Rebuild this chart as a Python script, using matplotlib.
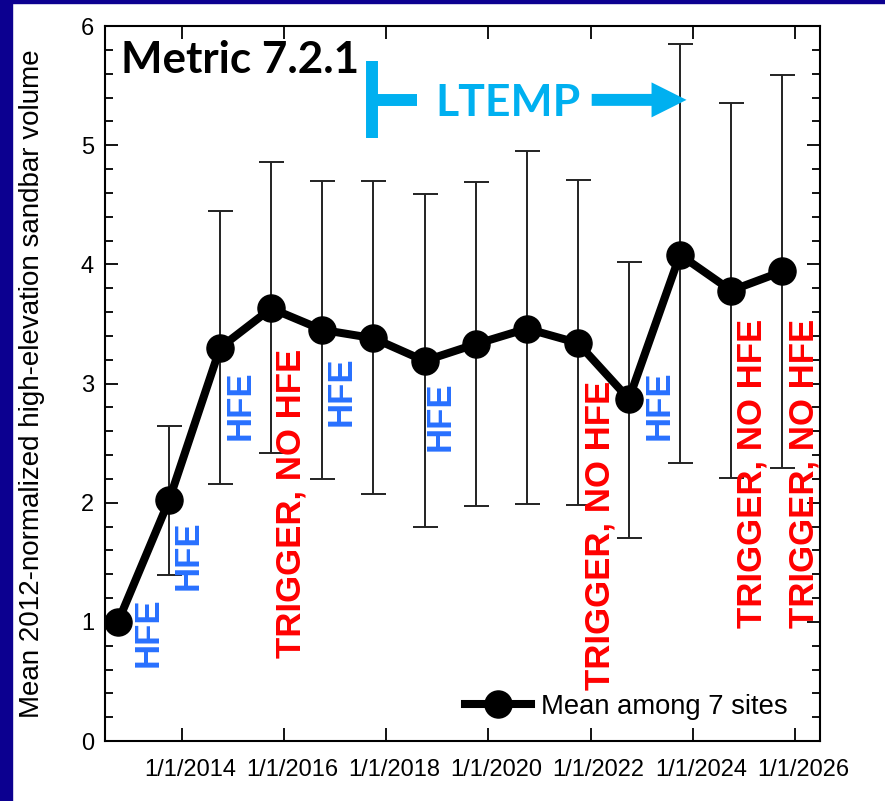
import matplotlib
matplotlib.use("Agg")
import matplotlib.pyplot as plt
import matplotlib.patches as ptc
import matplotlib.transforms as mtransforms
import numpy as np
import pandas as pd

# donnees
survey_dates = pd.to_datetime(["2012-10-01", "2013-10-01", "2014-10-01", "2015-10-01",
                               "2016-10-01", "2017-10-01", "2018-10-01", "2019-10-01",
                               "2020-10-01", "2021-10-01", "2022-10-01", "2023-10-01",
                               "2024-10-01", "2025-10-01"])
mean_vol = [1.00, 2.02, 3.30, 3.63, 3.45, 3.38, 3.19, 3.33, 3.46, 3.34, 2.87, 4.08, 3.78, 3.94]
upper_vol = [1.00, 2.64, 4.45, 4.86, 4.70, 4.70, 4.59, 4.69, 4.95, 4.71, 4.02, 5.85, 5.35, 5.59]
lower_vol = [1.00, 1.39, 2.16, 2.42, 2.20, 2.07, 1.80, 1.97, 1.99, 1.98, 1.70, 2.33, 2.21, 2.29]

tick_dates = pd.to_datetime(["2014-01-01", "2016-01-01", "2018-01-01", "2020-01-01",
                             "2022-01-01", "2024-01-01", "2026-01-01"])
tick_labels = ["1/1/2014", "1/1/2016", "1/1/2018", "1/1/2020", "1/1/2022", "1/1/2024", "1/1/2026"]

# evenements (HFE / trigger sans HFE)
event_dates = pd.to_datetime(["2013-05-02", "2014-02-12", "2015-02-19", "2016-02-18",
                              "2017-02-10", "2019-01-18", "2022-03-07", "2023-05-02",
                              "2025-02-26", "2026-03-04"])
event_labels = ["HFE", "HFE", "HFE", "TRIGGER, NO HFE", "HFE", "HFE",
                "TRIGGER, NO HFE", "HFE", "TRIGGER, NO HFE", "TRIGGER, NO HFE"]
event_y = [0.62, 1.27, 2.53, 0.70, 2.64, 2.43, 0.43, 2.53, 0.95, 0.95]

# fleche LTEMP
ltemp_start = pd.Timestamp("2017-09-20")
ltemp_arm_end = pd.Timestamp("2018-08-07")
ltemp_text_x = pd.Timestamp("2018-12-20")
ltemp_arrow_from = pd.Timestamp("2022-01-08")
ltemp_arrow_to = pd.Timestamp("2023-11-17")
ltemp_y = 5.38

navy = "#0c0090"
cyan = "#00b0f0"
blue = "#2870ff"
red = "#ff0000"

fig = plt.figure(figsize=(8.85, 8.01), dpi=100)
fig.patch.set_facecolor("white")
# bandes bleu fonce du cadre
fig.patches.append(ptc.Rectangle((0, 0), 12/885, 1, transform=fig.transFigure, color=navy, zorder=0))
fig.patches.append(ptc.Rectangle((0, 1-3/801), 1, 3/801, transform=fig.transFigure, color=navy, zorder=0))

ax = fig.add_axes([105/885, 60/801, 715/885, 715/801])

yerr = [np.array(mean_vol) - np.array(lower_vol), np.array(upper_vol) - np.array(mean_vol)]
ax.errorbar(survey_dates, mean_vol, yerr=yerr, fmt="none", ecolor="#222222",
            elinewidth=1.4, capsize=9, capthick=1.4, zorder=2)
ax.plot(survey_dates, mean_vol, "-o", color="black", lw=5.8, markersize=19.5,
        label="Mean among 7 sites", zorder=3)

for d, lab, yy in zip(event_dates, event_labels, event_y):
    col = blue if lab == "HFE" else red
    ax.text(d, yy, lab, rotation=90, ha="center", va="bottom", color=col,
            fontsize=25, fontweight="bold", family="Liberation Sans", zorder=4)

ax.text(0.022, 0.934, "Metric 7.2.1", transform=ax.transAxes, fontsize=31.7,
        fontweight="bold", family="Lato", va="baseline", ha="left")

# LTEMP
ax.plot([ltemp_start, ltemp_start], [5.06, 5.71], color=cyan, lw=8.6, solid_capstyle="butt")
ax.plot([ltemp_start, ltemp_arm_end], [ltemp_y, ltemp_y], color=cyan, lw=8.6, solid_capstyle="butt")
ax.text(ltemp_text_x, 5.244, "LTEMP", color=cyan, fontsize=32, fontweight="bold",
        family="Lato", ha="left", va="baseline")
ax.annotate("", xy=(ltemp_arrow_to, ltemp_y), xytext=(ltemp_arrow_from, ltemp_y),
            arrowprops=dict(arrowstyle="simple,head_length=1.26,head_width=1.26,tail_width=0.43",
                            color=cyan, mutation_scale=20, shrinkA=0, shrinkB=0, lw=0))

ax.set_xlim(pd.Timestamp("2012-06-30"), pd.Timestamp("2026-06-28"))
ax.set_ylim(0, 6)
ax.set_xticks(tick_dates)
ax.set_xticklabels(tick_labels)
ax.set_yticks(range(7))
ax.yaxis.set_minor_locator(matplotlib.ticker.MultipleLocator(0.2))
ax.xaxis.set_minor_locator(matplotlib.ticker.NullLocator())

ax.tick_params(axis="both", which="major", direction="in", length=9.5, width=1.3,
               top=True, right=True)
ax.tick_params(axis="y", which="minor", direction="in", length=5.5, width=1.3, right=True)
ax.tick_params(axis="x", which="major", labelsize=17, pad=13)
ax.tick_params(axis="y", which="major", labelsize=17, pad=8)
offset = mtransforms.ScaledTranslation(8/100, 0, fig.dpi_scale_trans)
for lbl in ax.get_xticklabels():
    lbl.set_transform(lbl.get_transform() + offset)
    lbl.set_family("Liberation Sans")
for lbl in ax.get_yticklabels():
    lbl.set_family("Liberation Sans")
for sp in ax.spines.values():
    sp.set_linewidth(1.5)

ax.set_ylabel("Mean 2012-normalized high-elevation sandbar volume", fontsize=20,
              family="Liberation Sans", labelpad=26)

leg = ax.legend(loc="center left", bbox_to_anchor=(0.5035, 0.0476), frameon=False,
                handlelength=2.4, handletextpad=0.37, borderpad=0,
                borderaxespad=0, prop={"family": "Liberation Sans", "size": 19.7})

fig.savefig("out.png", dpi=100)
